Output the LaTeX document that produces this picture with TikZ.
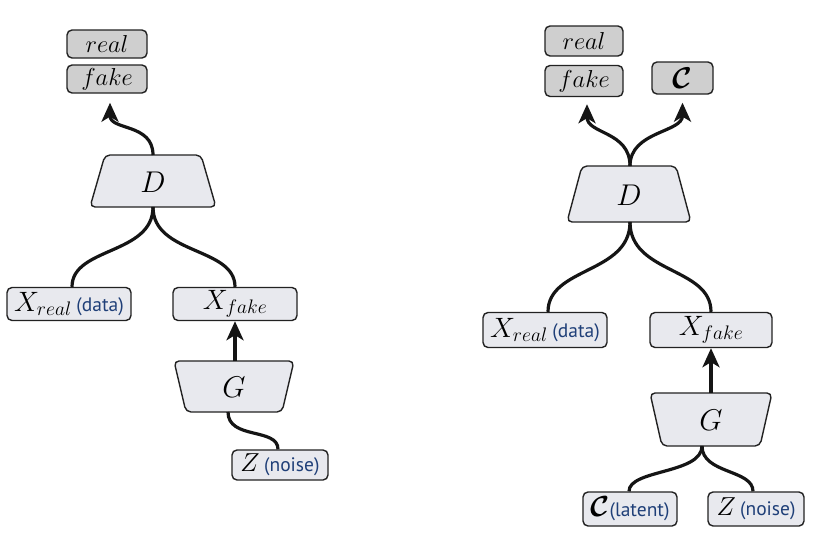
\RequirePackage{fix-cm}
\documentclass[tikz,border=0pt]{standalone}
\usepackage{bm}
\usepackage{fontspec}
\newfontfamily\labfont{PT Sans}
\usetikzlibrary{arrows.meta}
\definecolor{grayfill}{HTML}{CFCFCF}
\definecolor{lightfill}{HTML}{E8E9EE}
\definecolor{boxline}{HTML}{222222}
\definecolor{linecol}{HTML}{151515}
\definecolor{navy}{HTML}{1F3F78}
\newcommand{\lab}[1]{{\labfont\fontsize{19.5}{22}\selectfont\color{navy}#1}}
\begin{document}
\begin{tikzpicture}[x=1pt,y=-1pt,
  outbox/.style={draw=boxline, fill=grayfill, rounded corners=5pt, line width=1.4pt, inner sep=0pt, font=\fontsize{24.5}{28}\selectfont},
  inbox/.style={draw=boxline, fill=lightfill, rounded corners=5pt, line width=1.4pt, inner sep=0pt, font=\fontsize{28}{32}\selectfont},
  trapbox/.style={draw=boxline, fill=lightfill, rounded corners=5pt, line width=1.4pt},
  traplabel/.style={inner sep=0pt, font=\fontsize{30}{34}\selectfont},
  conn/.style={line width=3.2pt, draw=linecol},
  arr/.style={conn, -{Stealth[length=19pt,width=17pt,inset=5pt]}}]
\useasboundingbox (0,0) rectangle (820,555);

% ---------------- left panel ----------------
\node[outbox, minimum width=80pt, minimum height=28pt] (real1) at (107,44) {$real$};
\node[outbox, minimum width=80pt, minimum height=28pt] (fake1) at (107,79) {$fake$};

\draw[trapbox] (105,155) -- (201,155) -- (216,207) -- (90,207) -- cycle;
\node[traplabel] (D1) at (153,182) {$D$};
\coordinate (D1t) at (153,155);
\coordinate (D1b) at (153,207);

\node[inbox, minimum width=124pt, minimum height=33pt] (xr1) at (69,304) {$X_{real}$\,\lab{(data)}};
\node[inbox, minimum width=124pt, minimum height=33pt] (xf1) at (235,304) {$X_{fake}$};

\draw[trapbox] (174,361) -- (294,361) -- (282,412) -- (186,412) -- cycle;
\node[traplabel] (G1) at (234,387) {$G$};
\coordinate (G1t) at (235,361);
\coordinate (G1b) at (228,412);

\node[inbox, minimum width=96pt, minimum height=30pt, font=\fontsize{26}{30}\selectfont] (z1) at (280,465) {$Z$\,\lab{(noise)}};

\draw[arr] (D1t) .. controls +(0,-32) and +(0,28) .. ([xshift=3pt,yshift=-9pt]fake1.south);
\draw[conn] (D1b) .. controls +(0,48) and +(0,-40) .. ([xshift=3pt]xr1.north);
\draw[conn] (D1b) .. controls +(0,48) and +(0,-40) .. (xf1.north);
\draw[arr] (G1t) -- (xf1.south);
\draw[conn] (G1b) .. controls +(0,28) and +(0,-22) .. ([xshift=-2pt]z1.north);

% ---------------- right panel ----------------
\node[outbox, minimum width=78pt, minimum height=30pt] (real2) at (584,41) {$real$};
\node[outbox, minimum width=78pt, minimum height=31pt] (fake2) at (584,81) {$fake$};
\node[outbox, minimum width=61pt, minimum height=32pt, font=\fontsize{30}{34}\selectfont] (c2) at (682.5,78) {$\bm{\mathcal{C}}$};

\draw[trapbox] (582,166) -- (676,166) -- (691,222) -- (567,222) -- cycle;
\node[traplabel] (D2) at (629,195) {$D$};
\coordinate (D2t) at (630,166);
\coordinate (D2b) at (630,222);

\node[inbox, minimum width=124pt, minimum height=35pt] (xr2) at (545,330) {$X_{real}$\,\lab{(data)}};
\node[inbox, minimum width=122pt, minimum height=35pt] (xf2) at (711,330) {$X_{fake}$};

\draw[trapbox] (650,393) -- (772,393) -- (760,446) -- (662,446) -- cycle;
\node[traplabel] (G2) at (711,420) {$G$};
\coordinate (G2t) at (711,393);
\coordinate (G2b) at (702,446);

\node[inbox, minimum width=94pt, minimum height=34pt, font=\fontsize{29}{32}\selectfont] (cl2) at (630,509) {$\bm{\mathcal{C}}$\lab{(latent)}};
\node[inbox, minimum width=96pt, minimum height=34pt, font=\fontsize{26}{30}\selectfont] (z2) at (756,509) {$Z$\,\lab{(noise)}};

\draw[arr] (D2t) .. controls +(0,-35) and +(0,30) .. ([xshift=3pt,yshift=-7pt]fake2.south);
\draw[arr] (D2t) .. controls +(0,-35) and +(0,30) .. ([yshift=-8pt]c2.south);
\draw[conn] (D2b) .. controls +(0,52) and +(0,-45) .. ([xshift=3pt]xr2.north);
\draw[conn] (D2b) .. controls +(0,52) and +(0,-45) .. (xf2.north);
\draw[arr] (G2t) -- (xf2.south);
\draw[conn] (G2b) .. controls +(0,28) and +(0,-22) .. ([xshift=-1pt]cl2.north);
\draw[conn] (G2b) .. controls +(0,28) and +(0,-22) .. ([xshift=-3pt]z2.north);
\end{tikzpicture}
\end{document}
